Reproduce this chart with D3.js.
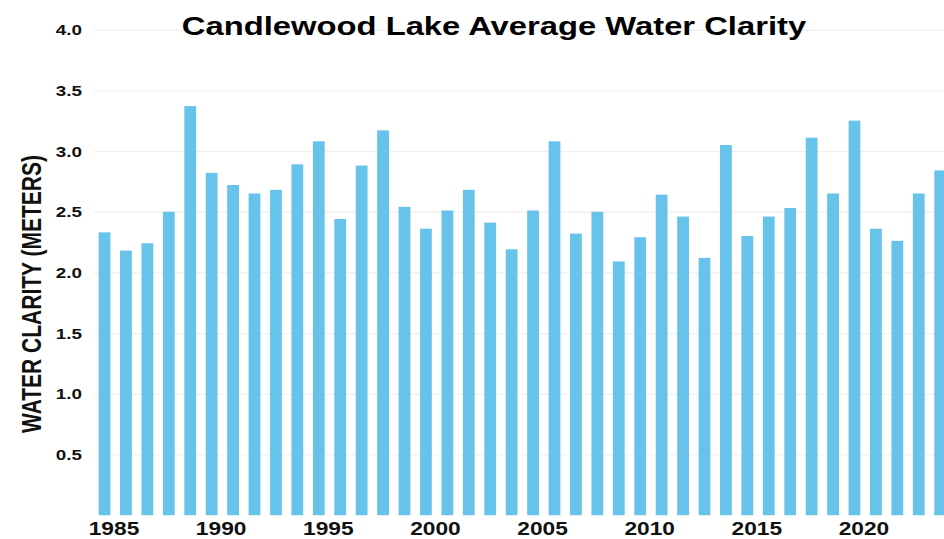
<!DOCTYPE html>
<html>
<head>
<meta charset="utf-8">
<script src="https://cdn.jsdelivr.net/npm/d3@7"></script>
<style>
  html, body { margin: 0; padding: 0; background: #fff; }
  svg { display: block; font-family: "Liberation Sans", Arial, sans-serif; }
</style>
</head>
<body>
<svg id="chart" width="944" height="539"></svg>
<script>
const years = [1985,1986,1987,1988,1989,1990,1991,1992,1993,1994,1995,1996,1997,1998,1999,2000,2001,2002,2003,2004,2005,2006,2007,2008,2009,2010,2011,2012,2013,2014,2015,2016,2017,2018,2019,2020,2021,2022,2023,2024];
const clarity = [2.33,2.18,2.24,2.50,3.37,2.82,2.72,2.65,2.68,2.89,3.08,2.44,2.88,3.17,2.54,2.36,2.51,2.68,2.41,2.19,2.51,3.08,2.32,2.50,2.09,2.29,2.64,2.46,2.12,3.05,2.30,2.46,2.53,3.11,2.65,3.25,2.36,2.26,2.65,2.84];
const yTicks = [0.5,1.0,1.5,2.0,2.5,3.0,3.5,4.0];
const xLabelYears = [1985,1990,1995,2000,2005,2010,2015,2020];
const titleText = "Candlewood Lake Average Water Clarity";
const yTitle = "WATER CLARITY (METERS)";

const svg = d3.select("#chart");
const W = 944, H = 539;
const stretch = 1.3;

const x = d3.scaleBand().domain(years).range([93.8, 950.9]).paddingInner(0.45).paddingOuter(0.225);
const y = d3.scaleLinear().domain([0, 4]).range([515.2, 29.6]);

// Y axis + gridlines
const yAxis = d3.axisLeft(y).tickValues(yTicks).tickFormat(d3.format(".1f"))
  .tickSize(-(W - 94)).tickPadding(0);
const gy = svg.append("g").attr("transform", "translate(94,0)").call(yAxis);
gy.select(".domain").remove();
gy.selectAll(".tick line").attr("stroke", "#efefef").attr("stroke-width", 1.2);
gy.selectAll(".tick text")
  .attr("x", -12 / stretch)
  .attr("dy", "0.35em")
  .attr("transform", `scale(${stretch},1)`)
  .attr("fill", "#111")
  .style("font-size", "14.5px")
  .style("font-weight", "bold")
  .style("font-family", "'Liberation Sans', Arial, sans-serif");

// Bars
svg.append("g").selectAll("rect").data(years).join("rect")
  .attr("x", (d) => x(d))
  .attr("width", x.bandwidth())
  .attr("y", (d, i) => y(clarity[i]))
  .attr("height", (d, i) => y(0) - y(clarity[i]))
  .attr("fill", "#67c3ea");

// X axis
const xAxis = d3.axisBottom(x).tickValues(xLabelYears).tickSize(0).tickPadding(10);
const gx = svg.append("g").attr("transform", `translate(0,${y(0)})`).call(xAxis);
gx.select(".domain").remove();
gx.selectAll(".tick text")
  .attr("y", 0)
  .attr("dy", "19.8")
  .attr("transform", `translate(9.5,0) scale(${stretch},1)`)
  .attr("fill", "#111")
  .style("font-size", "17.5px")
  .style("font-weight", "bold")
  .style("font-family", "'Liberation Sans', Arial, sans-serif");

// Title
svg.append("text")
  .attr("transform", `translate(494,35) scale(${stretch},1)`)
  .attr("text-anchor", "middle")
  .attr("fill", "#000")
  .style("font-size", "25.2px")
  .style("font-weight", "bold")
  .text(titleText);

// Y title
svg.append("text")
  .attr("transform", `translate(41,294) scale(${stretch},1) rotate(-90)`)
  .attr("text-anchor", "middle")
  .attr("fill", "#111")
  .style("font-size", "21px")
  .style("font-weight", "bold")
  .text(yTitle);
</script>
</body>
</html>
